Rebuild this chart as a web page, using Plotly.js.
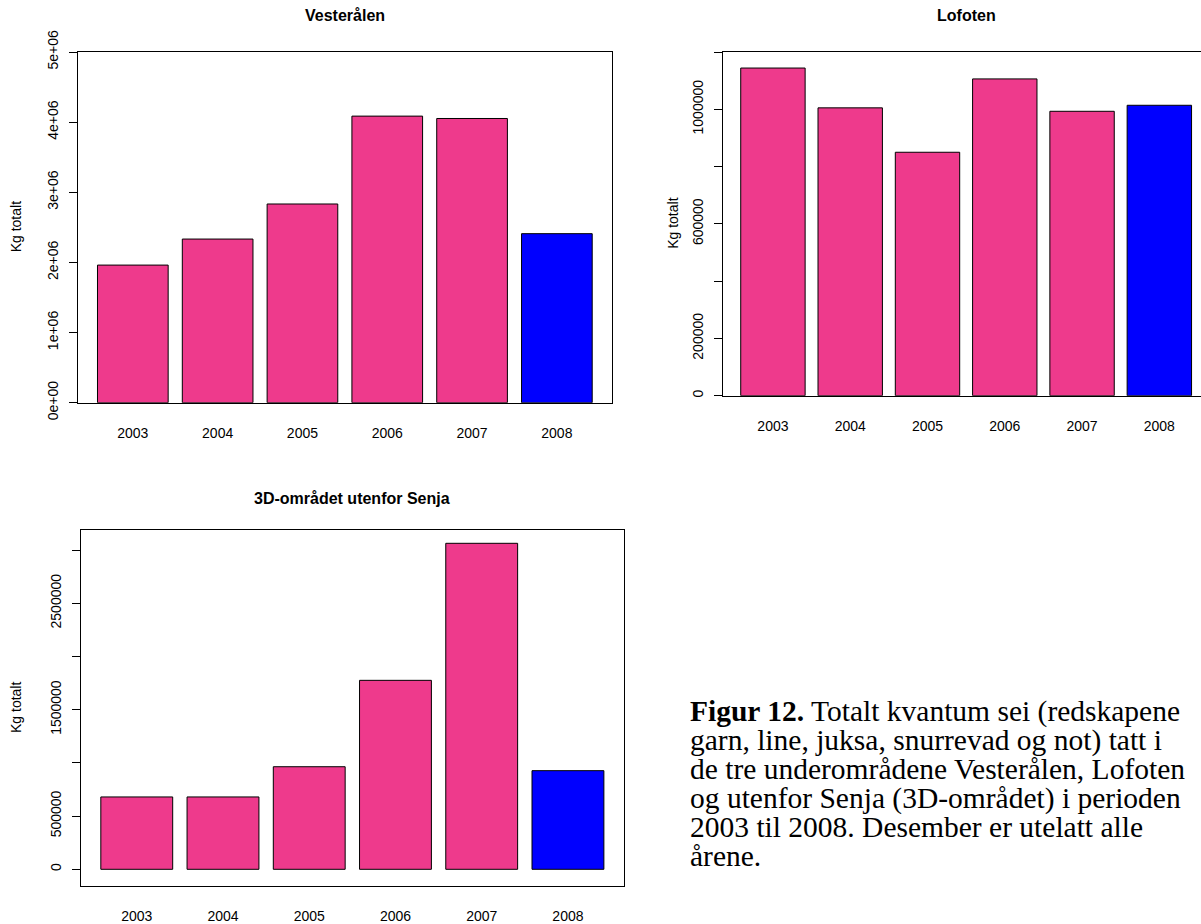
<!DOCTYPE html>
<html>
<head>
<meta charset="utf-8">
<script src="https://cdn.plot.ly/plotly-3.0.1.min.js"></script>
<style>
  body { margin: 0; background: #ffffff; }
  #chart { width: 1201px; height: 924px; }
</style>
</head>
<body>
<div id="chart"></div>
<script>
// values (kg)
const years = ['2003', '2004', '2005', '2006', '2007', '2008'];
const vesteralen = [1962000, 2333000, 2833000, 4086000, 4052000, 2410000];
const lofoten = [1144000, 1005000, 850000, 1106000, 993000, 1014000];
const senja = [680000, 680000, 964000, 1776000, 3064000, 927000];
const barColors = ['#EE3A8C', '#EE3A8C', '#EE3A8C', '#EE3A8C', '#EE3A8C', '#0000FF'];

const vestTicks = [0, 1e6, 2e6, 3e6, 4e6, 5e6];
const vestTickText = ['0e+00', '1e+06', '2e+06', '3e+06', '4e+06', '5e+06'];
const lofTicks = [0, 200000, 400000, 600000, 800000, 1000000, 1200000];
const lofTickText = ['0', '200000', '', '600000', '', '1000000', ''];
const senjaTicks = [0, 500000, 1000000, 1500000, 2000000, 2500000, 3000000];
const senjaTickText = ['0', '500000', '', '1500000', '', '2500000', ''];

const captionLines = [
    '<b>Figur 12.</b> Totalt kvantum sei (redskapene',
    'garn, line, juksa, snurrevad og not) tatt i',
    'de tre underområdene Vesterålen, Lofoten',
    'og utenfor Senja (3D-området) i perioden',
    '2003 til 2008. Desember er utelatt alle',
    'årene.'
];

const W = 1201, H = 924;
const px = v => v / W;
const py = v => 1 - v / H;

const sans = 'Liberation Sans, Arial, sans-serif';
const serif = 'Liberation Serif, Times New Roman, serif';

function barTrace(values, xa, ya) {
    return {
        type: 'bar',
        x: years,
        y: values,
        xaxis: xa,
        yaxis: ya,
        marker: { color: barColors, line: { color: '#000000', width: 1 } },
        hoverinfo: 'x+y'
    };
}

const data = [
    barTrace(vesteralen, 'x', 'y'),
    barTrace(lofoten, 'x2', 'y2'),
    barTrace(senja, 'x3', 'y3')
];

const xBase = {
    type: 'category',
    showgrid: false,
    zeroline: false,
    showline: true,
    linecolor: '#000000',
    linewidth: 1,
    ticks: '',
    tickfont: { family: sans, size: 14, color: '#000000' },
    fixedrange: true
};
const yBase = {
    showgrid: false,
    zeroline: false,
    showline: true,
    linecolor: '#000000',
    linewidth: 1,
    ticks: 'outside',
    ticklen: 8,
    tickwidth: 1,
    tickcolor: '#000000',
    tickangle: -90,
    tickmode: 'array',
    tickfont: { family: sans, size: 14, color: '#000000' },
    fixedrange: true
};

const layout = {
    width: W,
    height: H,
    margin: { l: 0, r: 0, t: 0, b: 0 },
    paper_bgcolor: '#ffffff',
    plot_bgcolor: '#ffffff',
    showlegend: false,
    bargap: 1 / 6,
    xaxis: { ...xBase, domain: [px(77.7), px(612)], range: [-0.65, 5.65], mirror: true, anchor: 'y', ticklabelstandoff: 17 },
    yaxis: { ...yBase, domain: [py(402.7), py(52)], range: [0, 5e6], mirror: true, anchor: 'x',
        tickvals: vestTicks, ticktext: vestTickText, ticklabelstandoff: 5 },
    xaxis2: { ...xBase, domain: [px(722.7), 1], range: [-0.65, 5.539], mirror: true, anchor: 'y2', ticklabelstandoff: 17 },
    yaxis2: { ...yBase, domain: [py(395.7), py(52)], range: [0, 1.2e6], anchor: 'x2',
        tickvals: lofTicks, ticktext: lofTickText, ticklabelstandoff: 5 },
    xaxis3: { ...xBase, domain: [px(80.7), px(624)], range: [-0.65, 5.65], mirror: true, anchor: 'y3', ticklabelstandoff: 17 },
    yaxis3: { ...yBase, domain: [py(886), py(530)], range: [-157000, 3189000], mirror: true, anchor: 'x3',
        tickvals: senjaTicks, ticktext: senjaTickText, ticklabelstandoff: 5 },
    annotations: []
};

// main titles
const titles = [
    { text: 'Vesterålen', x: (77.7 + 612) / 2, y: 15 },
    { text: 'Lofoten', x: 966, y: 15 },
    { text: '3D-området utenfor Senja', x: (80.7 + 624) / 2, y: 498 }
];
titles.forEach(t => {
    layout.annotations.push({
        text: '<b>' + t.text + '</b>',
        xref: 'paper', yref: 'paper',
        x: px(t.x), y: py(t.y),
        xanchor: 'center', yanchor: 'middle',
        showarrow: false,
        font: { family: sans, size: 16, color: '#000000' }
    });
});

// y axis titles
const yTitles = [
    { x: 16, y: (52 + 402.7) / 2 },
    { x: 673, y: (52 + 395.7) / 2 },
    { x: 16, y: (530 + 886) / 2 }
];
yTitles.forEach(t => {
    layout.annotations.push({
        text: 'Kg totalt',
        xref: 'paper', yref: 'paper',
        x: px(t.x), y: py(t.y),
        xanchor: 'center', yanchor: 'middle',
        textangle: -90,
        showarrow: false,
        font: { family: sans, size: 14, color: '#000000' }
    });
});

// caption, one annotation per line
captionLines.forEach((line, i) => {
    const center = 711 + 29 * i;
    layout.annotations.push({
        text: line,
        xref: 'paper', yref: 'paper',
        x: px(688), y: py(center),
        xanchor: 'left', yanchor: 'middle',
        align: 'left',
        showarrow: false,
        font: { family: serif, size: 29.5, color: '#000000' }
    });
});

Plotly.newPlot('chart', data, layout, { displayModeBar: false, staticPlot: true });
</script>
</body>
</html>
